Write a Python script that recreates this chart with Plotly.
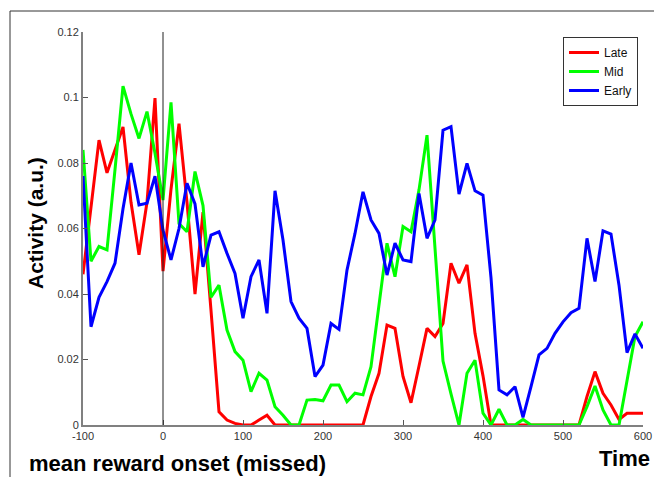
import plotly.graph_objects as go

time = list(range(-100, 601, 10))

late = [0.046, 0.067, 0.087, 0.077, 0.084, 0.091, 0.068, 0.052, 0.068, 0.0998,
        0.047, 0.072, 0.092, 0.068, 0.040, 0.065, 0.035, 0.004, 0.0015, 0.0005,
        0.0, 0.0, 0.0015, 0.003, 0.0,
        0.0, 0.0, 0.0, 0.0, 0.0, 0.0, 0.0, 0.0, 0.0, 0.0, 0.0,
        0.0087, 0.0158, 0.0305, 0.0295, 0.0148, 0.0068, 0.018, 0.0295, 0.027, 0.031,
        0.0494, 0.0433, 0.0489, 0.028, 0.015, 0.0,
        0.0, 0.0, 0.0, 0.0, 0.0, 0.0, 0.0, 0.0, 0.0, 0.0, 0.0,
        0.0087, 0.0163, 0.0097, 0.0061, 0.0017, 0.0036, 0.0036, 0.0036]

mid = [0.084, 0.050, 0.0545, 0.0535, 0.078, 0.1035, 0.095, 0.0875, 0.0957, 0.083,
       0.0687, 0.0985, 0.0615, 0.059, 0.0774, 0.067, 0.039, 0.0427, 0.029, 0.0224,
       0.0198, 0.0102, 0.0158, 0.0137, 0.0056, 0.003, 0.0, 0.0, 0.0076, 0.0078,
       0.0074, 0.0122, 0.0122, 0.0071, 0.0097, 0.0092, 0.0178, 0.0366, 0.0555, 0.0453,
       0.0606, 0.059, 0.0718, 0.0885, 0.055, 0.0195, 0.0095, 0.0, 0.0158, 0.0198,
       0.0036, 0.0, 0.0048, 0.0, 0.0, 0.0017, 0.0,
       0.0, 0.0, 0.0, 0.0, 0.0, 0.0,
       0.0056, 0.0119, 0.0046, 0.0, 0.0, 0.0137, 0.027, 0.0315]

early = [0.076, 0.030, 0.039, 0.0438, 0.0494, 0.066, 0.080, 0.0672, 0.0677, 0.076,
         0.0595, 0.0504, 0.060, 0.0738, 0.0675, 0.0483, 0.058, 0.059, 0.0524, 0.0463,
         0.0326, 0.0453, 0.0504, 0.0341, 0.0715, 0.0565, 0.0377, 0.0326, 0.0295, 0.0148,
         0.0183, 0.031, 0.0292, 0.0473, 0.0585, 0.0712, 0.0626, 0.0585, 0.0458, 0.0555,
         0.0504, 0.0499, 0.0707, 0.057, 0.0626, 0.090, 0.0911, 0.0705, 0.0799, 0.0715,
         0.0702, 0.045, 0.0107, 0.0092, 0.0117, 0.0023, 0.0117, 0.0214, 0.0234, 0.028,
         0.0315, 0.0343, 0.0356, 0.057, 0.0438, 0.0593, 0.0583, 0.0427, 0.0221, 0.0278,
         0.0234]

series_names = ["Late", "Mid", "Early"]
series_colors = ["#ff0000", "#00ff00", "#0000ff"]
x_ticks = [-100, 0, 100, 200, 300, 400, 500, 600]
x_tick_text = ["-100", "0", "100", "200", "300", "400", "500", "600"]
y_ticks = [0, 0.02, 0.04, 0.06, 0.08, 0.1, 0.12]
y_tick_text = ["0", "0.02", "0.04", "0.06", "0.08", "0.1", "0.12"]

fig = go.Figure()
for name, vals, col in zip(series_names, [late, mid, early], series_colors):
    fig.add_trace(go.Scatter(x=time, y=vals, mode="lines", name=name,
                             line=dict(color=col, width=3)))

W, H = 654, 477
L, R, T, B = 83, 11, 32, 52
pw, ph = W - L - R, H - T - B

def px(xp):
    return (xp - L) / pw

def py(yp):
    return (H - B - yp) / ph

fig.update_layout(
    width=W, height=H,
    margin=dict(l=L, r=R, t=T, b=B, pad=0, autoexpand=False),
    paper_bgcolor="white", plot_bgcolor="white",
    font=dict(family="Liberation Sans, Arial, sans-serif", size=11, color="#222"),
    xaxis=dict(range=[-100, 600], tickvals=x_ticks, ticktext=x_tick_text,
               showgrid=False, zeroline=False,
               showline=True, linecolor="#808080", linewidth=2, ticks="inside",
               ticklen=5, tickcolor="#555", tickfont=dict(size=11, color="#333")),
    yaxis=dict(range=[0, 0.12], tickvals=y_ticks, ticktext=y_tick_text, showgrid=False,
               zeroline=False, showline=True, linecolor="#808080", linewidth=2,
               ticks="inside", ticklen=5, tickcolor="#555",
               tickfont=dict(size=11, color="#333")),
    showlegend=True,
    legend=dict(x=px(563), y=py(37), xanchor="left", yanchor="top",
                bgcolor="white", bordercolor="#333", borderwidth=1,
                font=dict(size=12, color="#111"), tracegroupgap=0,
                itemwidth=30),
    shapes=[
        dict(type="line", xref="x", yref="paper", x0=0, x1=0, y0=0, y1=1,
             line=dict(color="#222", width=1)),
        dict(type="rect", xref="paper", yref="paper", x0=px(10), x1=px(700),
             y0=py(520), y1=py(11), line=dict(color="#333", width=1),
             fillcolor="rgba(0,0,0,0)", layer="below"),
    ],
    annotations=[
        dict(text="<b>Activity (a.u.)</b>", xref="paper", yref="paper",
             x=px(36), y=py(223), textangle=-90, showarrow=False,
             xanchor="center", yanchor="middle",
             font=dict(size=21, color="black")),
        dict(text="<b>mean reward onset (missed)</b>", xref="paper", yref="paper",
             x=px(27), y=py(463), showarrow=False, xanchor="left", yanchor="middle",
             font=dict(size=22, color="black")),
        dict(text="<b>Time</b>", xref="paper", yref="paper",
             x=px(652), y=py(458), showarrow=False, xanchor="right", yanchor="middle",
             font=dict(size=22, color="black")),
    ],
)

fig.write_html("out.html")
